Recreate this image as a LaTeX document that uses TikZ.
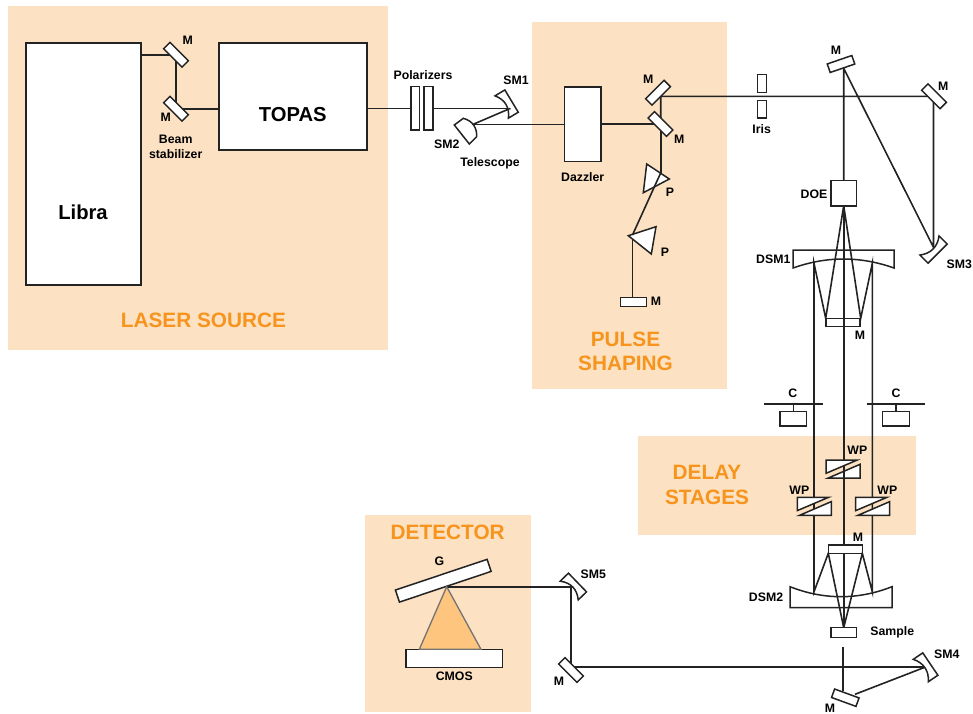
\documentclass[tikz,border=0pt]{standalone}
\usepackage{fontspec}
\setmainfont{Liberation Sans}
\usetikzlibrary{backgrounds}
\definecolor{panelc}{HTML}{FCE2C3}
\definecolor{headc}{HTML}{F7941D}
\definecolor{linec}{HTML}{232323}
\definecolor{conec}{HTML}{FDC57E}
\tikzset{
  x=1pt,y=-1pt,
  beam/.style={line width=1.6pt,draw=linec},
  part/.style={draw=linec,line width=1.5pt,fill=white,inner sep=0pt,outer sep=0pt},
  flatm/.style={part,minimum width=26pt,minimum height=9pt},
  panel/.style={fill=panelc,draw=none},
  lab/.style={inner sep=0pt,font=\fontsize{12.3}{14}\selectfont\bfseries,text=black},
  big/.style={inner sep=0pt,font=\fontsize{20.2}{24}\selectfont\bfseries,text=black},
  head/.style={inner sep=0pt,font=\fontsize{20.8}{24}\selectfont\bfseries,text=headc}
}
% centre of chord x, y; rotation; half width; thickness
\newcommand{\curvmirror}[5]{%
  \draw[part,shift={(#1,#2)},rotate=#3]
    (-#4,0) .. controls (-#4*0.35,#5*0.58) and (#4*0.35,#5*0.58) .. (#4,0)
    -- (#4,#5) -- (-#4,#5) -- cycle;}
\newcommand{\waveplate}[2]{%
  \begin{scope}[shift={(#1,#2)}]
    \draw[part] (0,0) -- (31.3,0) -- (0,13.3) -- cycle;
    \draw[part] (34,4.3) -- (34,18) -- (2.3,18) -- cycle;
  \end{scope}}
\begin{document}
\begin{tikzpicture}
\useasboundingbox (0,0) rectangle (973,713);

% boxes and flat mirrors
\node[part,minimum width=115pt,minimum height=242pt] (libra) at (83.5,164) {};
\node[part,minimum width=148pt,minimum height=107pt] (topas) at (293,96.5) {};
\node[part,minimum width=36.5pt,minimum height=74.5pt] (dazzler) at (582.5,124) {};
\node[part,minimum width=25.5pt,minimum height=25.5pt] (doe) at (843.7,193) {};
\node[part,minimum width=8.7pt,minimum height=43.5pt] (pol1) at (415.2,108.3) {};
\node[part,minimum width=8.7pt,minimum height=43.5pt] (pol2) at (428.5,108.3) {};
\node[part,minimum width=9.3pt,minimum height=17.6pt] (irisa) at (762,83.5) {};
\node[part,minimum width=9.3pt,minimum height=17.7pt] (irisb) at (762,109.2) {};
\node[flatm,rotate=-45] (m1) at (176,54.7) {};
\node[flatm,rotate=-45] (m2) at (176,108.7) {};
\node[flatm,rotate=45] (m3) at (658,92.7) {};
\node[flatm,rotate=-45] (m4) at (660.5,124) {};
\node[flatm,minimum height=9.4pt] (m5) at (633.7,302) {};
\node[flatm,rotate=19] (m6) at (841,64) {};
\node[flatm,rotate=-45] (m7) at (934,96.3) {};
\node[part,minimum width=34.4pt,minimum height=8.4pt] (m8) at (843,322.5) {};
\node[part,minimum width=34pt,minimum height=8.3pt] (m9) at (845.3,549.2) {};
\node[part,minimum width=25.7pt,minimum height=9.6pt] (sample) at (843.8,632.5) {};
\node[flatm,rotate=-20] (m10) at (845.3,697.7) {};
\node[flatm,rotate=-45] (m11) at (571,670) {};
\node[part,minimum width=96.7pt,minimum height=12.7pt,rotate=18.5] (grating) at (443.3,580.7) {};
\node[part,minimum width=96.7pt,minimum height=18pt] (cmos) at (454.3,658.3) {};
\node[part,minimum width=26.7pt,minimum height=14.3pt] (c1) at (793.3,418.8) {};
\node[part,minimum width=26.6pt,minimum height=14.3pt] (c2) at (896,418.8) {};
\coordinate (c1l) at (764,404); \coordinate (c1r) at (822.7,404);
\coordinate (c2l) at (867.3,404); \coordinate (c2r) at (925.3,404);

% beam corner points
\coordinate (sm1hit) at (510,108.5);
\coordinate (sm2hit) at (472.7,124.5);
\coordinate (topturn) at (660.7,96.3);
\coordinate (m4foot) at (660.7,124);
\coordinate (p1top) at (660.7,173);
\coordinate (p2hit) at (632.5,235);
\coordinate (m7hit) at (933.5,96.3);
\coordinate (sm3hit) at (933.5,247.3);
\coordinate (doefoot) at (843.7,205.7);
\coordinate (dsm1l) at (814,263.3);
\coordinate (dsm1r) at (872.3,263.3);
\coordinate (dsm2l) at (814,591.7);
\coordinate (dsm2r) at (872.3,591.7);
\coordinate (sm4hit) at (925,667.2);
\coordinate (sm5hit) at (571,586.7);
\coordinate (m6hit) at (843.7,68.3);
\coordinate (m10hit) at (855,694.3);
\coordinate (m11hit) at (571,667.2);
\coordinate (gratehit) at (446.7,586.7);
\coordinate (samplehit) at (843.7,627.7);
\coordinate (samplegap) at (843,646.7);
\coordinate (m10foot) at (843,691);

\begin{pgfonlayer}{background}
  \fill[panel] (8,6) rectangle (388,350);
  \fill[panel] (532,22) rectangle (727,389);
  \fill[panel] (638,436) rectangle (916,535);
  \fill[panel] (365,515) rectangle (531,712);
  \draw[beam] (libra.east |- m1.center) -- (m1.center) -- (m2.center) -- (topas.west |- m2.center);
  \draw[beam] (topas.east |- pol1.center) -- (pol1.center);
  \draw[beam] (pol2.center) -- (sm1hit |- pol2.center);
  \draw[beam] (dazzler.west |- sm2hit) -- (sm2hit);
  \draw[beam] (dazzler.east |- m4foot) -- (m4foot) -- (p1top);
  \draw[beam] (m4foot) -- (topturn) -- (m7hit) -- (sm3hit) -- (m6hit) -- (m6hit |- doe.north);
  \draw[beam] (p2hit) -- (m5.north -| p2hit);
  \draw[beam] (sm4hit) -- (m11hit) -- (sm5hit) -- (gratehit);
  \draw[beam] (samplegap) -- (m10foot);
  \draw[beam] (m10hit) -- (sm4hit);
\end{pgfonlayer}

% curved mirrors
\curvmirror{501.7}{107}{121}{13}{11.5}
\curvmirror{929.5}{245.5}{45}{13.5}{11.5}
\curvmirror{920.8}{670.5}{124}{13.5}{11.5}
\curvmirror{569.2}{590.5}{134}{13}{11.5}
\draw[part] (454.3,125) -- (463.3,118.3) .. controls (473,121) and (477,128) .. (476.7,136.7) -- (469.3,144) -- cycle;
\draw[part] (793,250) -- (894,250) -- (894,268) .. controls (860,256) and (827,256) .. (793,268) -- cycle;
\draw[part] (790,607.7) -- (892,607.7) -- (892,586.7) .. controls (858,600) and (824,600) .. (790,586.7) -- cycle;

% prisms
\draw[part] (646.7,164) -- (669.3,179) -- (643.3,192.7) -- cycle;
\draw[part] (628.3,235.7) -- (656,226.7) -- (651.3,254) -- cycle;

% detector cone
\draw[draw=gray!90!black,line width=1.3pt,fill=conec] (gratehit) -- (419.3,649.3) -- (481,649.3) -- cycle;

% beams that show through the parts
\draw[beam] (sm1hit |- pol2.center) -- (sm1hit) -- (sm2hit);
\draw[beam] (p1top) -- (657,181) -- (p2hit);
\draw[beam] (doefoot) -- (m9.north -| doefoot);
\draw[beam] (doefoot) -- (825.7,318.3) -- (dsm1l) -- (dsm2l) -- (828.3,553.3) -- (samplehit);
\draw[beam] (doefoot) -- (860.7,318.3) -- (dsm1r) -- (dsm2r) -- (862.3,553.3) -- (samplehit);
\draw[beam] (843.7,553.3) -- (samplehit);

% wave plates
\waveplate{826}{460}
\waveplate{797.3}{497.3}
\waveplate{855.7}{497.3}
\draw[beam] (843.7,467) -- (843.7,478.3);

% carriage rails
\draw[beam] (c1l) -- (c1r) (c2l) -- (c2r);
\draw[beam] (c1.north) -- (c1.north |- c1l);
\draw[beam] (c2.north) -- (c2.north |- c2l);

% labels
\node[big] (tLibra) at (83,212) {Libra};
\node[big] (tTopas) at (292.7,114.7) {TOPAS};
\node[head] (tLaser) at (203.5,320.5) {LASER SOURCE};
\node[head] (tPulse) at (625.5,339) {PULSE};
\node[head] (tShaping) at (625.5,363) {SHAPING};
\node[head] (tDelay) at (707,472) {DELAY};
\node[head] (tStages) at (707,497) {STAGES};
\node[head] (tDetector) at (447.7,532.7) {DETECTOR};
\node[lab] (l1) at (187.7,40) {M};
\node[lab] (l2) at (165.7,117.7) {M};
\node[lab] (l3) at (175.7,139) {Beam};
\node[lab] (l4) at (175.7,154) {stabilizer};
\node[lab] (l5) at (423,75) {Polarizers};
\node[lab] (l6) at (516,80) {SM1};
\node[lab] (l7) at (446.7,144.3) {SM2};
\node[lab] (l8) at (490,163.5) {Telescope};
\node[lab] (l9) at (648.3,79) {M};
\node[lab] (l10) at (679.3,139) {M};
\node[lab] (l11) at (582.7,177.5) {Dazzler};
\node[lab] (l12) at (761.7,129.5) {Iris};
\node[lab] (l13) at (670,192.3) {P};
\node[lab] (l14) at (665,252.3) {P};
\node[lab] (l15) at (656,301.7) {M};
\node[lab] (l16) at (836,50.7) {M};
\node[lab] (l17) at (943.3,86) {M};
\node[lab] (l18) at (814,194) {DOE};
\node[lab] (l19) at (773.3,259.3) {DSM1};
\node[lab] (l20) at (959.3,264) {SM3};
\node[lab] (l21) at (860,335) {M};
\node[lab] (l22) at (792.7,393) {C};
\node[lab] (l23) at (896,393) {C};
\node[lab] (l24) at (857.3,450.7) {WP};
\node[lab] (l25) at (799.3,490) {WP};
\node[lab] (l26) at (887.3,490) {WP};
\node[lab] (l27) at (858,537.3) {M};
\node[lab] (l28) at (766,597.7) {DSM2};
\node[lab] (l29) at (892.3,632.7) {Sample};
\node[lab] (l30) at (946.7,654) {SM4};
\node[lab] (l31) at (830,708) {M};
\node[lab] (l32) at (439.3,561) {G};
\node[lab] (l33) at (454.3,676.7) {CMOS};
\node[lab] (l34) at (593.3,574.3) {SM5};
\node[lab] (l35) at (559,681.7) {M};
\end{tikzpicture}
\end{document}
